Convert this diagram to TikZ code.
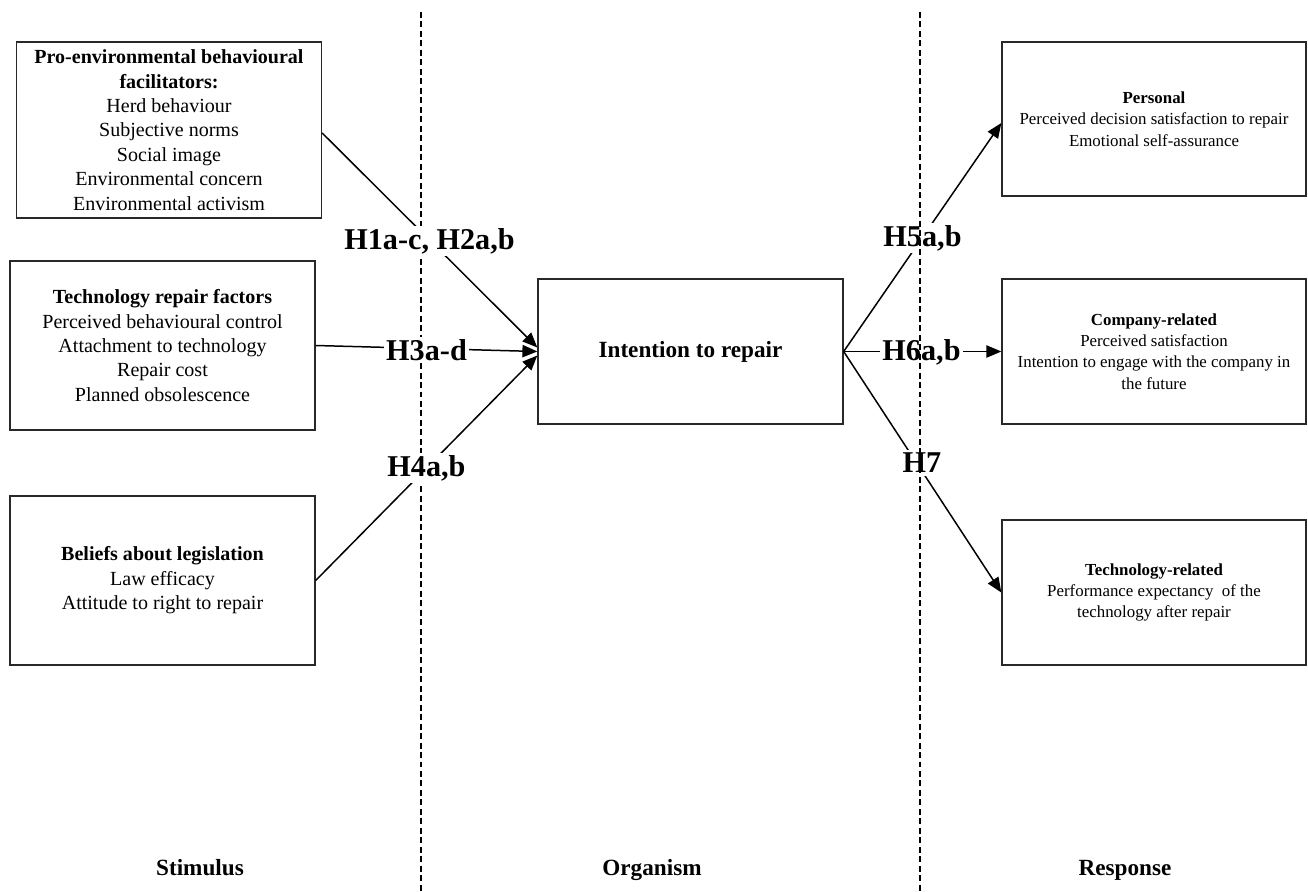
\documentclass[tikz,border=0pt]{standalone}
\usepackage{fontspec}
\setmainfont{Liberation Serif}
\usetikzlibrary{arrows.meta}
\definecolor{boxGray}{RGB}{40, 40, 40}

\begin{document}
\begin{tikzpicture}[
        x=0.02cm, y=-0.02cm,
        stimBox/.style={draw=boxGray, line width=0.8pt, minimum width=6.1cm, minimum height=3.38cm, align=center, inner sep=2pt, font=\fontsize{11.4}{13.9}\selectfont},
        respBox/.style={draw=boxGray, line width=0.8pt, minimum width=6.08cm, minimum height=2.9cm, align=center, inner sep=2pt, font=\fontsize{9.6}{12.2}\selectfont},
        coreBox/.style={draw=boxGray, line width=0.8pt, minimum width=6.1cm, minimum height=2.9cm, font=\bfseries\fontsize{13.2}{16}\selectfont},
        hypLabel/.style={fill=white, inner sep=1.5pt, font=\bfseries\fontsize{17.2}{20}\selectfont},
        phaseLabel/.style={anchor=base, font=\bfseries\fontsize{13.2}{16}\selectfont},
        linkLine/.style={line width=0.85pt, -{Triangle[length=8.5pt,width=7pt]}},
        phaseLine/.style={line width=0.75pt, dash pattern=on 3.4pt off 2pt}
    ]
        \useasboundingbox (0,0) rectangle (1308,892);

        % Stimulus
        \node[stimBox, minimum height=3.52cm] (facil) at (169,130) {\textbf{Pro-environmental behavioural}\\\textbf{facilitators:}\\Herd behaviour\\Subjective norms\\Social image\\Environmental concern\\Environmental activism};
        \node[stimBox] (techfac) at (162.5,345.5) {\textbf{Technology repair factors}\\Perceived behavioural control\\Attachment to technology\\Repair cost\\Planned obsolescence};
        \node[stimBox] (beliefs) at (162.5,580.5) {\textbf{Beliefs about legislation}\\Law efficacy\\Attitude to right to repair};

        % Organism
        \node[coreBox] (intent) at (690.5,351.5) {Intention to repair};

        % Response
        \node[respBox, minimum height=3.08cm] (personal) at (1154,119) {\textbf{Personal}\\Perceived decision satisfaction to repair\\Emotional self-assurance};
        \node[respBox] (company) at (1154,351.5) {\textbf{Company-related}\\Perceived satisfaction\\Intention to engage with the company in\\the future};
        \node[respBox] (techrel) at (1154,592.5) {\textbf{Technology-related}\\Performance expectancy~ of the\\technology after repair};

        % Links
        \draw[linkLine] ([yshift=-0.06cm]facil.east) -- ([yshift=0.08cm]intent.west);
        \draw[linkLine] (techfac.east) -- (intent.west);
        \draw[linkLine] (beliefs.east) -- ([yshift=-0.08cm]intent.west);
        \draw[linkLine] (intent.east) -- ([yshift=-0.08cm]personal.west);
        \draw[linkLine] (intent.east) -- (company.west);
        \draw[linkLine] (intent.east) -- (techrel.west);

        % Phase borders and hypotheses
        \coordinate (sTop) at (421,12);
        \coordinate (sBot) at (421,892);
        \coordinate (rTop) at (920,12);
        \coordinate (rBot) at (920,892);
        \draw[phaseLine] (sTop) -- (sBot);

        \node[hypLabel] (h1) at (429.5,241) {H1a-c, H2a,b};
        \node[hypLabel] (h3) at (426.5,350) {H3a-d};
        \node[hypLabel] (h4) at (426.5,468) {H4a,b};
        \node[hypLabel] (h5) at (922.5,238) {H5a,b};
        \node[hypLabel] (h6) at (921.5,352) {H6a,b};
        \node[hypLabel] (h7) at (922,463) {H7};

        \draw[phaseLine] (rTop) -- (rBot);

        \node[phaseLabel] (stim) at (200,875) {Stimulus};
        \node[phaseLabel] (org) at (652,875) {Organism};
        \node[phaseLabel] (resp) at (1125,875) {Response};
    \end{tikzpicture}
\end{document}
